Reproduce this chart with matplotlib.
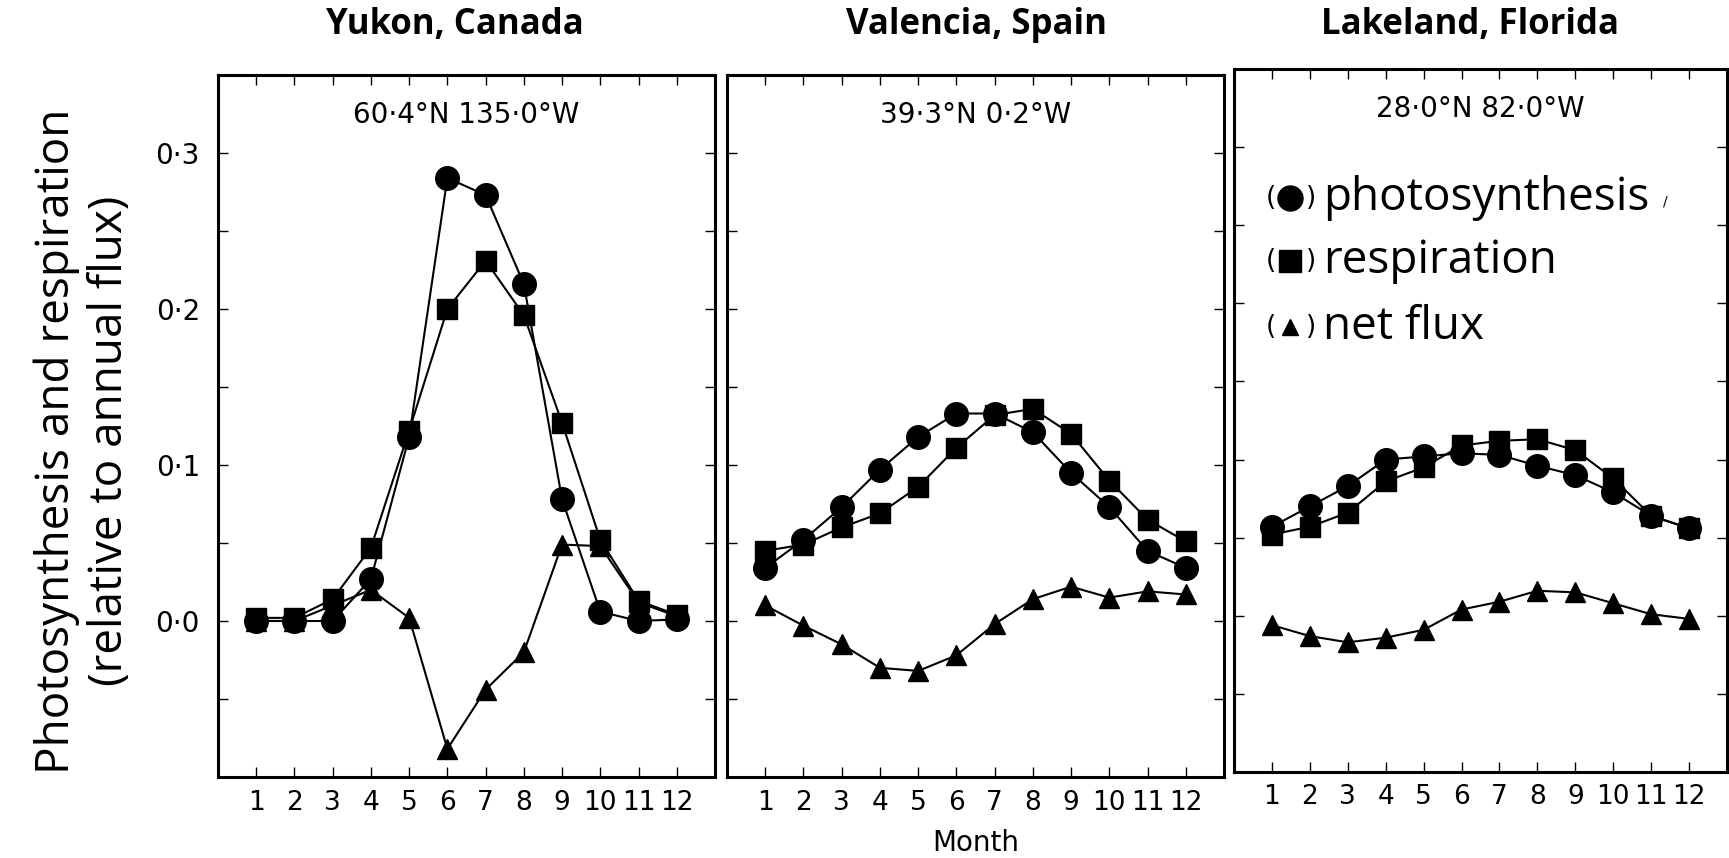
import matplotlib
matplotlib.use("Agg")
import matplotlib.pyplot as plt
from matplotlib.ticker import FixedLocator, FixedFormatter

# ---- data ----
months = list(range(1, 13))

sites = ["Yukon, Canada", "Valencia, Spain", "Lakeland, Florida"]
coords = ["60·4°N 135·0°W", "39·3°N 0·2°W", "28·0°N 82·0°W"]

yukon_photo = [0.0, 0.0, 0.0, 0.027, 0.118, 0.284, 0.273, 0.216, 0.078, 0.006, 0.0, 0.001]
yukon_resp = [0.002, 0.002, 0.014, 0.047, 0.122, 0.200, 0.231, 0.196, 0.127, 0.052, 0.013, 0.004]
yukon_net = [0.0, 0.0, 0.010, 0.020, 0.002, -0.082, -0.044, -0.020, 0.049, 0.048, 0.012, 0.003]

valencia_photo = [0.034, 0.052, 0.073, 0.097, 0.118, 0.133, 0.133, 0.121, 0.095, 0.073, 0.045, 0.034]
valencia_resp = [0.045, 0.049, 0.060, 0.069, 0.086, 0.111, 0.132, 0.136, 0.120, 0.090, 0.065, 0.051]
valencia_net = [0.010, -0.003, -0.015, -0.030, -0.032, -0.022, -0.002, 0.014, 0.022, 0.015, 0.019, 0.017]

lakeland_photo = [0.057, 0.070, 0.083, 0.100, 0.102, 0.104, 0.103, 0.096, 0.090, 0.079, 0.064, 0.056]
lakeland_resp = [0.052, 0.057, 0.066, 0.086, 0.095, 0.109, 0.112, 0.113, 0.106, 0.088, 0.064, 0.056]
lakeland_net = [-0.006, -0.013, -0.017, -0.014, -0.009, 0.004, 0.009, 0.016, 0.015, 0.008, 0.001, -0.002]

photo = [yukon_photo, valencia_photo, lakeland_photo]
resp = [yukon_resp, valencia_resp, lakeland_resp]
net = [yukon_net, valencia_net, lakeland_net]

ytick_vals = [0.0, 0.1, 0.2, 0.3]
ytick_labels = ["0·0", "0·1", "0·2", "0·3"]
yminor_vals = [-0.05, 0.05, 0.15, 0.25]

legend_labels = ["photosynthesis", "respiration", "net flux"]

# ---- layout ----
W, H = 1729, 858
fig = plt.figure(figsize=(W / 100, H / 100), dpi=100)
fig.patch.set_facecolor("white")

TITLE_FONT = ["Open Sans", "DejaVu Sans"]
PLOT_FONT = ["DejaVu Sans"]

# axes boxes in pixels: left, top, right, bottom
boxes = [(218, 75, 715, 777), (727, 75, 1224, 777), (1234, 69, 1727, 772)]
title_x = [455, 976, 1470]

axes = []
for i, (l, t, r, b) in enumerate(boxes):
    ax = fig.add_axes([l / W, 1 - b / H, (r - l) / W, (b - t) / H])
    axes.append(ax)
    ax.plot(months, net[i], "-^", color="black", lw=1.5, ms=14, zorder=3)
    ax.plot(months, resp[i], "-s", color="black", lw=1.5, ms=15, zorder=4)
    ax.plot(months, photo[i], "-o", color="black", lw=1.5, ms=17, zorder=5)

    ax.set_xlim(0, 13)
    ax.set_ylim(-0.1, 0.35)
    ax.set_xticks(months)
    ax.set_xticklabels([str(m) for m in months], family=PLOT_FONT, fontsize=19)
    ax.yaxis.set_major_locator(FixedLocator(ytick_vals))
    ax.yaxis.set_minor_locator(FixedLocator(yminor_vals))
    if i == 0:
        ax.yaxis.set_major_formatter(FixedFormatter(ytick_labels))
        for lab in ax.get_yticklabels():
            lab.set_family(PLOT_FONT)
            lab.set_fontsize(20)
    else:
        ax.set_yticklabels([])
    ax.tick_params(which="both", direction="in", top=True, right=True,
                   length=7, width=1.0, pad=9)
    ax.tick_params(axis="y", which="major", pad=13)
    for sp in ax.spines.values():
        sp.set_linewidth(2.2)

    ax.text(0.5, 0.943, coords[i], transform=ax.transAxes, ha="center",
            va="center", fontsize=20, family=PLOT_FONT)
    fig.text(title_x[i] / W, 1 - 25 / H, sites[i], ha="center", va="center",
             fontsize=25, fontweight="bold", family=TITLE_FONT)

axes[1].set_xlabel("Month", fontsize=20, family=PLOT_FONT, labelpad=10)

fig.text(83 / W, 1 - 441 / H,
         "Photosynthesis and respiration\n(relative to annual flux)",
         rotation=90, ha="center", va="center", multialignment="center",
         fontsize=33, family=TITLE_FONT, linespacing=1.2)

# hand-made legend in the Lakeland panel
ax3 = axes[2]
leg_y = [0.817, 0.727, 0.633]
leg_markers = [("o", 18), ("s", 16), ("^", 12)]
for (mk, ms), yy, lab in zip(leg_markers, leg_y, legend_labels):
    ax3.plot([0.114], [yy], marker=mk, ms=ms, color="black",
             transform=ax3.transAxes, clip_on=False, zorder=6)
    ax3.text(0.074, yy, "(", transform=ax3.transAxes, ha="center",
             va="center", fontsize=19, family=PLOT_FONT)
    ax3.text(0.156, yy, ")", transform=ax3.transAxes, ha="center",
             va="center", fontsize=19, family=PLOT_FONT)
    ax3.text(0.180, yy, lab, transform=ax3.transAxes, ha="left",
             va="center", fontsize=33, family=TITLE_FONT)
ax3.text(0.874, 0.811, "/", transform=ax3.transAxes, ha="center",
         va="center", fontsize=10, family=PLOT_FONT)

fig.savefig("out.png", dpi=100, facecolor="white")
